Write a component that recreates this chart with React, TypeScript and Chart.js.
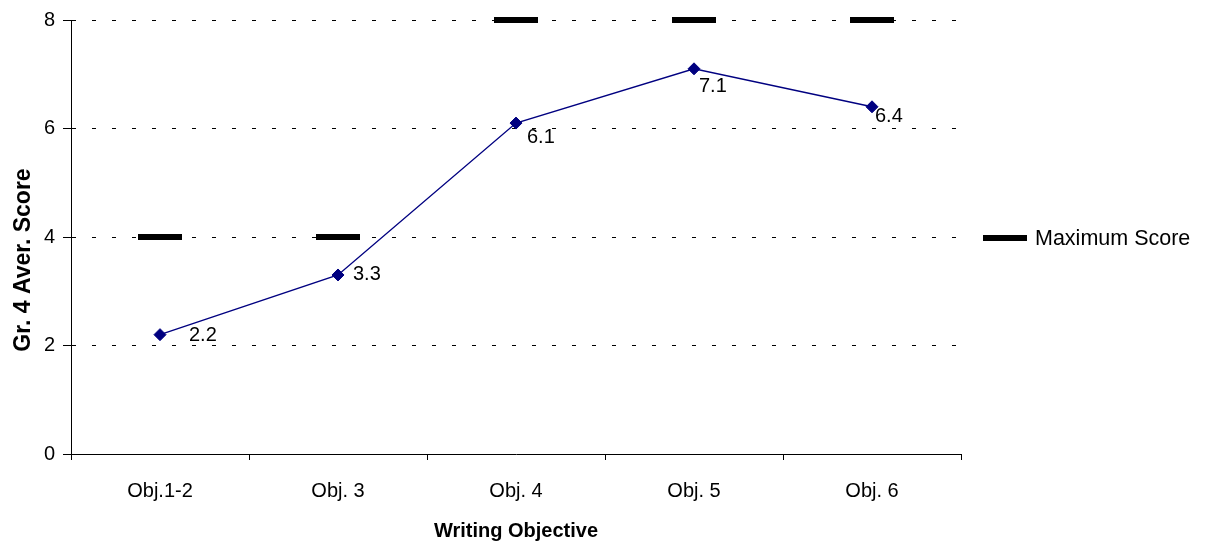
import { useEffect, useRef } from "react";
import { Chart, registerables } from "chart.js";

Chart.register(...registerables);

// Writing objectives on the category axis
const categories = ["Obj.1-2", "Obj. 3", "Obj. 4", "Obj. 5", "Obj. 6"];
// Grade 4 average score per objective
const averageScores = [2.2, 3.3, 6.1, 7.1, 6.4];
// Maximum attainable score per objective
const maximumScores = [4, 4, 8, 8, 8];
// Value axis ticks
const yTicks = [0, 2, 4, 6, 8];

const yTitle = "Gr. 4 Aver. Score";
const xTitle = "Writing Objective";
const legendLabel = "Maximum Score";

const FONT = "'Liberation Sans', Arial, Helvetica, sans-serif";
const NAVY = "#000080";

// Where each value label sits relative to its point: [dx to text start, dy to text middle]
const labelNudges: [number, number][] = [
  [29, 1],
  [15, 0],
  [11, 14],
  [5, 18],
  [3, 10],
];

const decorations = {
  id: "decorations",
  afterDraw(chart: Chart) {
    const ctx = chart.ctx;
    const area = chart.chartArea;
    ctx.save();

    // value labels next to the average points
    const meta = chart.getDatasetMeta(0);
    ctx.fillStyle = "#000";
    ctx.font = `20px ${FONT}`;
    ctx.textAlign = "left";
    ctx.textBaseline = "middle";
    meta.data.forEach((pt: any, i: number) => {
      const [dx, dy] = labelNudges[i];
      ctx.fillText(averageScores[i].toFixed(1), pt.x + dx, pt.y + dy);
    });

    // axis titles
    ctx.font = `bold 20px ${FONT}`;
    ctx.textAlign = "center";
    ctx.textBaseline = "alphabetic";
    ctx.fillText(xTitle, (area.left + area.right) / 2, 537);

    ctx.save();
    ctx.font = `bold 23px ${FONT}`;
    ctx.translate(30, 260);
    ctx.rotate(-Math.PI / 2);
    ctx.fillText(yTitle, 0, 0);
    ctx.restore();

    // legend: a single entry for the maximum score markers
    const ly = 238;
    ctx.strokeStyle = "#000";
    ctx.lineWidth = 6;
    ctx.beginPath();
    ctx.moveTo(983, ly);
    ctx.lineTo(1027, ly);
    ctx.stroke();
    ctx.font = `21.5px ${FONT}`;
    ctx.textAlign = "left";
    ctx.textBaseline = "middle";
    ctx.fillText(legendLabel, 1035, ly + 1);

    ctx.restore();
  },
};

export default function App() {
  const canvasRef = useRef<HTMLCanvasElement | null>(null);

  useEffect(() => {
    if (!canvasRef.current) return;
    const chart = new Chart(canvasRef.current, {
      type: "line",
      data: {
        labels: categories,
        datasets: [
          {
            label: "Average Score",
            data: averageScores,
            borderColor: NAVY,
            backgroundColor: NAVY,
            borderWidth: 1.4,
            pointStyle: "rectRot",
            pointRadius: 6,
            pointBorderWidth: 1,
            pointBackgroundColor: NAVY,
            pointBorderColor: NAVY,
            fill: false,
            tension: 0,
            clip: false,
            order: 2,
          },
          {
            label: legendLabel,
            data: maximumScores,
            showLine: false,
            pointStyle: "line",
            pointRadius: 22,
            pointBorderWidth: 6,
            pointBorderColor: "#000",
            borderColor: "#000",
            clip: false,
            order: 1,
          },
        ],
      },
      options: {
        responsive: false,
        animation: false,
        devicePixelRatio: 1,
        layout: {
          autoPadding: false,
          padding: { top: 20, right: 246, left: 0, bottom: 0 },
        },
        plugins: {
          legend: { display: false },
          title: { display: false },
          tooltip: { enabled: false },
        },
        scales: {
          x: {
            type: "category",
            offset: true,
            grid: {
              offset: true,
              drawOnChartArea: false,
              color: "#000",
              tickLength: 6,
            },
            border: { color: "#000", width: 1 },
            ticks: {
              color: "#000",
              font: { family: FONT, size: 20 },
              padding: 19,
              maxRotation: 0,
            },
            afterFit(scale: any) {
              scale.height = 88;
              scale.paddingLeft = 0;
              scale.paddingRight = 0;
            },
          },
          y: {
            min: 0,
            max: 8,
            afterBuildTicks(scale: any) {
              scale.ticks = yTicks.map((v) => ({ value: v }));
            },
            grid: {
              color: "#000",
              lineWidth: 1,
              tickLength: 8,
              tickColor: "#000",
            },
            border: { color: "#000", width: 1, dash: [4, 16] },
            ticks: {
              color: "#000",
              font: { family: FONT, size: 20 },
              padding: 8,
              callback: (v: any) => String(v),
            },
            afterFit(scale: any) {
              scale.width = 71;
              scale.paddingTop = 0;
              scale.paddingBottom = 0;
            },
          },
        },
      },
      plugins: [decorations],
    });
    return () => chart.destroy();
  }, []);

  return (
    <div style={{ position: "fixed", left: 0, top: 0, width: 1207, height: 542, background: "#fff" }}>
      <canvas ref={canvasRef} width={1207} height={542} style={{ display: "block" }} />
    </div>
  );
}
